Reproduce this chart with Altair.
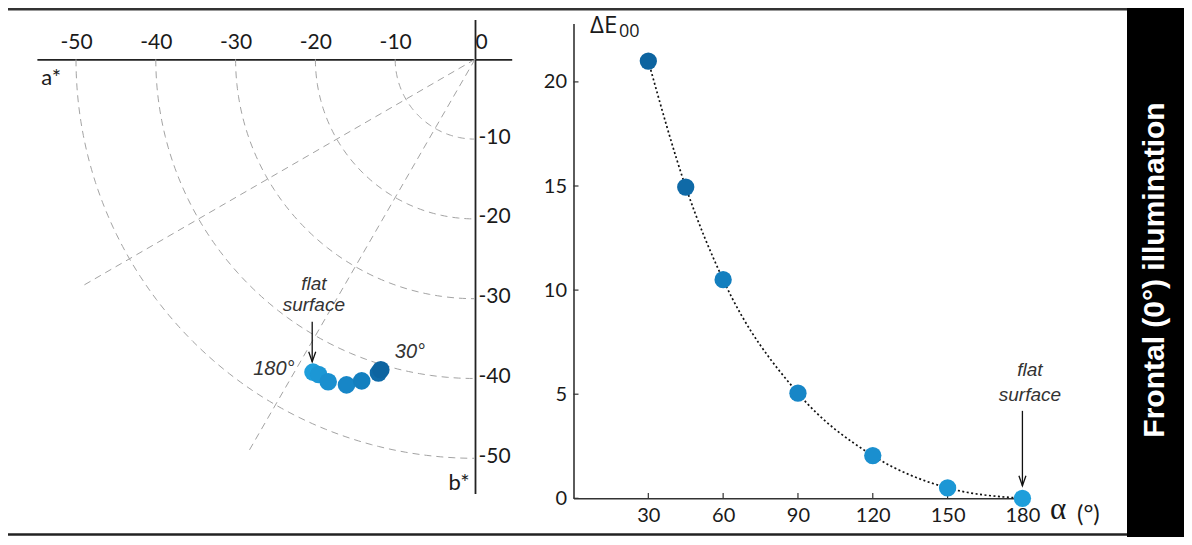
import altair as alt
import numpy as np
import pandas as pd

# ---------------- data ----------------
alpha_deg = [30, 45, 60, 90, 120, 150, 180]
a_star = [-11.8, -12.1, -14.2, -16.1, -18.4, -19.6, -20.3]
b_star = [-38.9, -39.3, -40.3, -40.8, -40.4, -39.5, -39.2]
delta_e = [21.0, 14.95, 10.5, 5.05, 2.05, 0.5, 0.0]
point_colors = ["#0d64a0", "#0f6aa7", "#137fbf", "#1786c7", "#1a8fcf", "#1c97d5", "#1e9edb"]

chroma_radii = [10, 20, 30, 40, 50]
hue_ray_deg = [210, 240]
ray_length = 57

a_ticks = [-50, -40, -30, -20, -10, 0]
b_ticks = [-50, -40, -30, -20, -10]
alpha_ticks = [30, 60, 90, 120, 150, 180]
de_ticks = [0, 5, 10, 15, 20]

side_label = "Frontal (0°) illumination"

# ---------------- layout ----------------
W, H = 1176, 529
LX0, LY0, K = 467.0, 51.3, 7.98          # left panel origin (px) and px per unit
a_dom = [-54.9, 4.6]
b_dom = [-54.4, 5.0]
RX0, RY0, KX, KY = 565.5, 490.3, 2.494, 20.82
al_dom = [0, 180]
de_dom = [0, 22.8]

a_scale = alt.Scale(domain=a_dom, range=[LX0 + K * a_dom[0], LX0 + K * a_dom[1]], nice=False, zero=False)
b_scale = alt.Scale(domain=b_dom, range=[LY0 - K * b_dom[0], LY0 - K * b_dom[1]], nice=False, zero=False)
al_scale = alt.Scale(domain=al_dom, range=[RX0 + KX * al_dom[0], RX0 + KX * al_dom[1]], nice=False, zero=False)
de_scale = alt.Scale(domain=de_dom, range=[RY0 - KY * de_dom[0], RY0 - KY * de_dom[1]], nice=False, zero=False)

TICK_FONT = "Lato"
NOTE_FONT = "Liberation Sans"

a_axis = alt.Axis(orient="top", offset=-LY0, values=a_ticks, title=None, tickSize=0,
                  labelPadding=7, labelFont=TICK_FONT, labelFontSize=21, labelColor="#1a1a1a",
                  domainColor="#222", domainWidth=1.8, grid=False, labelFlush=False, labelOverlap=False,
                  labelAlign={"condition": {"test": "datum.value === 0", "value": "left"}, "value": "center"},
                  labelExpr="datum.value < 0 ? '-' + abs(datum.value) : ' ' + datum.value")
b_axis = alt.Axis(orient="right", offset=-(W - LX0), values=b_ticks, title=None, tickSize=0,
                  labelPadding=3, labelFont=TICK_FONT, labelFontSize=21, labelColor="#1a1a1a",
                  domainColor="#222", domainWidth=1.8, grid=False, labelFlush=False, labelOverlap=False,
                  labelOffset=-2, labelExpr="'-' + abs(datum.value)")
al_axis = alt.Axis(orient="bottom", offset=-(H - RY0), values=alpha_ticks, title=None, tickSize=0,
                   labelPadding=7, labelFont=TICK_FONT, labelFontSize=20, labelColor="#1a1a1a",
                   domainColor="#333", domainWidth=1.6, grid=False, labelFlush=False, labelOverlap=False)
de_axis = alt.Axis(orient="left", offset=-RX0, values=de_ticks, title=None, tickSize=0,
                   labelPadding=7, labelFont=TICK_FONT, labelFontSize=20, labelColor="#1a1a1a",
                   domainColor="#333", domainWidth=1.6, grid=False, labelFlush=False, labelOverlap=False)

color_enc = alt.Color("alpha:N", scale=alt.Scale(domain=alpha_deg, range=point_colors), legend=None)

# ---------------- left panel tables ----------------
theta = np.linspace(180, 270, 91)
arc_rows = []
for r in chroma_radii:
    for i, t in enumerate(theta):
        arc_rows.append({"r": r, "i": i, "a": r * np.cos(np.radians(t)), "b": r * np.sin(np.radians(t))})
arcs_df = pd.DataFrame(arc_rows)

ray_rows = []
for d in hue_ray_deg:
    ray_rows.append({"ray": d, "i": 0, "a": 0.0, "b": 0.0})
    ray_rows.append({"ray": d, "i": 1, "a": ray_length * np.cos(np.radians(d)),
                     "b": ray_length * np.sin(np.radians(d))})
rays_df = pd.DataFrame(ray_rows)

left_pts = pd.DataFrame({"alpha": alpha_deg, "a": a_star, "b": b_star})

X_L = alt.X("a:Q", scale=a_scale, axis=a_axis)
Y_L = alt.Y("b:Q", scale=b_scale, axis=b_axis)

dash = dict(strokeDash=[7, 5], color="#a3a3a3", strokeWidth=1)

arcs = alt.Chart(arcs_df).mark_line(**dash).encode(x=X_L, y=Y_L, detail="r:N", order="i:Q")
rays = alt.Chart(rays_df).mark_line(**dash).encode(x=X_L, y=Y_L, detail="ray:N", order="i:Q")
lpts = alt.Chart(left_pts).mark_circle(size=310, opacity=1).encode(
    x=X_L, y=Y_L, color=color_enc, order=alt.Order("alpha:Q", sort="descending"))

axis_titles_df = pd.DataFrame({"a": [-53.1, -2.0], "b": [-2.3, -53.1], "t": ["a*", "b*"]})
axis_titles = alt.Chart(axis_titles_df).mark_text(font=TICK_FONT, fontSize=22, color="#1a1a1a",
                                                  align="center", baseline="middle").encode(
    x=X_L, y=Y_L, text="t:N")

l_note_df = pd.DataFrame({"a": [-20.2, -20.2], "b": [-28.1, -30.8], "t": ["flat", "surface"]})
l_note = alt.Chart(l_note_df).mark_text(font=NOTE_FONT, fontStyle="italic", fontSize=19,
                                        color="#333", baseline="middle").encode(x=X_L, y=Y_L, text="t:N")
l_deg_df = pd.DataFrame({"a": [-25.2, -8.15], "b": [-38.8, -36.7], "t": ["180°", "30°"]})
l_deg = alt.Chart(l_deg_df).mark_text(font=NOTE_FONT, fontStyle="italic", fontSize=20,
                                      color="#333", baseline="middle").encode(x=X_L, y=Y_L, text="t:N")
l_arrow_df = pd.DataFrame({"a": [-20.4], "b": [-32.9], "b2": [-37.9]})
l_arrow = alt.Chart(l_arrow_df).mark_rule(color="#111", strokeWidth=1.3).encode(
    x=X_L, y=Y_L, y2="b2:Q")
l_head = alt.Chart(l_arrow_df).mark_point(shape="M -0.35 -1 L 0 0 L 0.35 -1", size=400, filled=False,
                                          color="#111", strokeWidth=1.3, opacity=1).encode(
    x=X_L, y=alt.Y("b2:Q", scale=b_scale, axis=b_axis))

left = alt.layer(arcs, rays, axis_titles, l_note, l_deg, l_arrow, l_head, lpts)

# ---------------- right panel ----------------
right_pts = pd.DataFrame({"alpha": alpha_deg, "dE": delta_e})
X_R = alt.X("alpha:Q", scale=al_scale, axis=al_axis)
Y_R = alt.Y("dE:Q", scale=de_scale, axis=de_axis)

rline = alt.Chart(right_pts).mark_line(interpolate="monotone", strokeDash=[2, 2.5], color="#111",
                                       strokeWidth=1.7).encode(x=X_R, y=Y_R)
rpts = alt.Chart(right_pts).mark_circle(size=300, opacity=1).encode(x=X_R, y=Y_R, color=color_enc)

xt_df = pd.DataFrame({"alpha": alpha_ticks, "dE": [0] * len(alpha_ticks), "dE2": [0.25] * len(alpha_ticks)})
xt = alt.Chart(xt_df).mark_rule(color="#333", strokeWidth=1.2).encode(x=X_R, y=Y_R, y2="dE2:Q")
yt_df = pd.DataFrame({"alpha": [0] * len(de_ticks), "alpha2": [2] * len(de_ticks), "dE": de_ticks})
yt = alt.Chart(yt_df).mark_rule(color="#333", strokeWidth=1.2).encode(x=X_R, x2="alpha2:Q", y=Y_R)

r_note_df = pd.DataFrame({"alpha": [183, 183], "dE": [6.15, 4.95], "t": ["flat", "surface"]})
r_note = alt.Chart(r_note_df).mark_text(font=NOTE_FONT, fontStyle="italic", fontSize=19,
                                        color="#333", baseline="middle").encode(x=X_R, y=Y_R, text="t:N")
r_arrow_df = pd.DataFrame({"alpha": [180], "dE": [4.2], "dE2": [0.6]})
r_arrow = alt.Chart(r_arrow_df).mark_rule(color="#111", strokeWidth=1.3).encode(x=X_R, y=Y_R, y2="dE2:Q")
r_head = alt.Chart(r_arrow_df).mark_point(shape="M -0.35 -1 L 0 0 L 0.35 -1", size=400, filled=False,
                                          color="#111", strokeWidth=1.3, opacity=1).encode(
    x=X_R, y=alt.Y("dE2:Q", scale=de_scale, axis=de_axis))

right = alt.layer(rline, xt, yt, r_note, r_arrow, r_head, rpts)

# ---------------- titles & frame ----------------
one = pd.DataFrame({"k": [0]})
de_title = alt.Chart(one).mark_text(text="ΔE", font="Open Sans", fontSize=24, color="#1a1a1a",
                                    align="left", baseline="alphabetic").encode(
    x=alt.value(582), y=alt.value(25))
de_sub = alt.Chart(one).mark_text(text="00", font="Open Sans", fontSize=18, color="#1a1a1a",
                                  align="left", baseline="alphabetic").encode(
    x=alt.value(611), y=alt.value(29))
al_title = alt.Chart(one).mark_text(text="α", font="Liberation Serif", fontSize=31, color="#1a1a1a",
                                    align="left", baseline="alphabetic").encode(
    x=alt.value(1042), y=alt.value(511))
al_unit = alt.Chart(one).mark_text(text="(°)", font=TICK_FONT, fontSize=24, color="#1a1a1a",
                                   align="left", baseline="alphabetic").encode(
    x=alt.value(1069), y=alt.value(514))

box = alt.Chart(one).mark_rect(color="black").encode(
    x=alt.value(1119), x2=alt.value(W), y=alt.value(0), y2=alt.value(H))
side = alt.Chart(one).mark_text(text=side_label, font="Liberation Sans", fontWeight="bold", fontSize=30,
                                color="white", angle=270, align="center", baseline="middle").encode(
    x=alt.value(1147), y=alt.value(262))
top_line = alt.Chart(one).mark_rule(color="#333", strokeWidth=2.5).encode(
    x=alt.value(0), x2=alt.value(1119), y=alt.value(1.3))
bottom_line = alt.Chart(one).mark_rule(color="#222", strokeWidth=2.5).encode(
    x=alt.value(0), x2=alt.value(1119), y=alt.value(526.5))

decor = alt.layer(de_title, de_sub, al_title, al_unit, box, side, top_line, bottom_line)

chart = alt.layer(left, right, decor).resolve_scale(
    x="independent", y="independent"
).resolve_axis(
    x="independent", y="independent"
).properties(
    width=W, height=H, padding=0, autosize=alt.AutoSizeParams(type="none")
).configure_view(strokeWidth=0)

chart.save("out.html", embed_options={"renderer": "svg", "actions": False})
